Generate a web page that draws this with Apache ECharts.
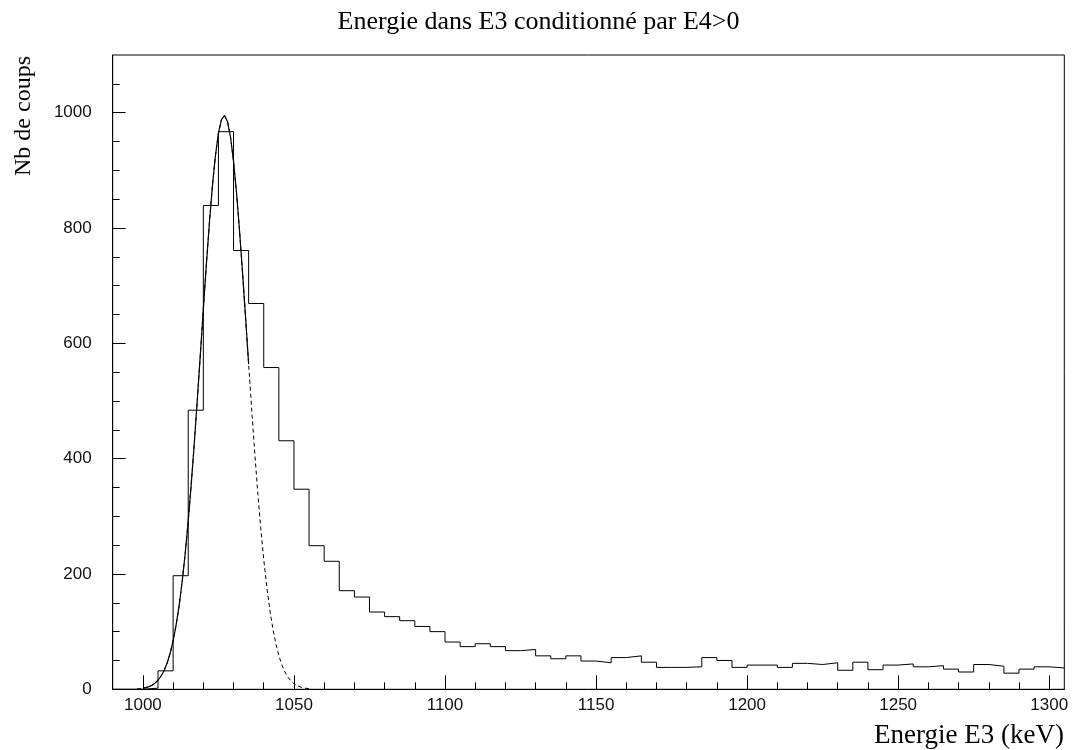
<!DOCTYPE html>
<html>
<head>
<meta charset="utf-8">
<script src="https://cdn.jsdelivr.net/npm/echarts@6/dist/echarts.min.js"></script>
<style>
html,body{margin:0;padding:0;background:#fff;}
#chart{width:1077px;height:750px;}
</style>
</head>
<body>
<div id="chart"></div>
<script>
// Histogram bins (lower edges, keV) and counts
const binLow = [990,995,1000,1005,1010,1015,1020,1025,1030,1035,1040,1045,1050,1055,1060,1065,1070,1075,1080,1085,1090,1095,1100,1105,1110,1115,1120,1125,1130,1135,1140,1145,1150,1155,1160,1165,1170,1175,1180,1185,1190,1195,1200,1205,1210,1215,1220,1225,1230,1235,1240,1245,1250,1255,1260,1265,1270,1275,1280,1285,1290,1295,1300];
const binHigh = 1305;
const counts = [0,0,2,32,197,484,839,967,761,669,558,431,347,249,222,171,160,134,126,119,109,100,82,74,79,74,67,69,58,53,58,49,46,55,58,47,38,38,39,55,50,38,42,42,38,45,43,46,33,47,34,42,44,39,41,35,30,43,40,28,35,39,37];

// Fitted peak curve
const fitX = [998,999,1000,1001,1002,1003,1004,1005,1006,1007,1008,1009,1010,1011,1012,1013,1014,1015,1016,1017,1018,1019,1020,1021,1022,1023,1024,1025,1026,1027,1028,1029,1030,1031,1032,1033,1034,1035,1036,1037,1038,1039,1040,1041,1042,1043,1044,1045,1046,1047,1048,1049,1050,1051,1052,1053,1054,1055,1056];
const fitY = [0.7,1.2,1.9,3.0,4.6,7.1,10.6,15.7,22.7,32.3,45.2,62.1,84.0,111.6,145.6,186.9,235.6,292.0,355.8,426.0,501.2,579.7,658.9,736.2,808.3,872.2,925.2,964.4,988.0,995,984.6,957.8,915.6,860.3,794.4,721.1,643.2,563.9,485.9,411.5,342.5,280.2,225.3,178.0,138.2,105.5,79.2,58.4,42.3,30.1,21.1,14.5,9.8,6.5,4.3,2.7,1.7,1.1,0.7];
const fitRange = [1000, 1035];

// Axis ticks
const xMajor = [1000,1050,1100,1150,1200,1250,1300];
const xMinor = [1000,1010,1020,1030,1040,1050,1060,1070,1080,1090,1100,1110,1120,1130,1140,1150,1160,1170,1180,1190,1200,1210,1220,1230,1240,1250,1260,1270,1280,1290,1300];
const yMajor = [0,200,400,600,800,1000];
const yMinor = [0,50,100,150,200,250,300,350,400,450,500,550,600,650,700,750,800,850,900,950,1000,1050];

const titleText = 'Energie dans E3 conditionné par E4>0';
const xName = 'Energie E3 (keV)';
const yName = 'Nb de coups';

const histData = binLow.map((x, i) => [x, counts[i]]);
histData.push([binHigh, counts[counts.length - 1]]);
const fitAll = fitX.map((x, i) => [x, fitY[i]]);
const fitSolid = fitAll.filter(p => p[0] >= fitRange[0] && p[0] <= fitRange[1]);

const chart = echarts.init(document.getElementById('chart'), null, {renderer: 'canvas'});
const labelFont = {fontFamily: 'Liberation Sans', fontSize: 17, color: '#111', formatter: v => String(v)};
chart.setOption({
  animation: false,
  backgroundColor: '#fff',
  title: {
    text: titleText, left: 'center', top: 4,
    textStyle: {fontFamily: 'Liberation Serif', fontSize: 26, fontWeight: 'normal', color: '#000'}
  },
  grid: {left: 112.7, right: 12.7, top: 55, bottom: 60.7, show: true, borderColor: '#000', borderWidth: 1, backgroundColor: 'transparent'},
  xAxis: [{
    type: 'value', min: 990, max: 1305, position: 'bottom',
    axisLine: {show: true, onZero: false, lineStyle: {color: '#000', width: 1}},
    axisTick: {show: true, inside: true, length: 14, customValues: xMajor, lineStyle: {color: '#000'}},
    axisLabel: Object.assign({customValues: xMajor, margin: 8}, labelFont),
    splitLine: {show: false}
  }, {
    type: 'value', min: 990, max: 1305, position: 'bottom',
    axisLine: {show: false},
    axisTick: {show: true, inside: true, length: 7, customValues: xMinor, lineStyle: {color: '#000'}},
    axisLabel: {show: false},
    splitLine: {show: false}
  }],
  yAxis: [{
    type: 'value', min: 0, max: 1100, position: 'left',
    axisLine: {show: true, onZero: false, lineStyle: {color: '#000', width: 1}},
    axisTick: {show: true, inside: true, length: 13, customValues: yMajor, lineStyle: {color: '#000'}},
    axisLabel: Object.assign({customValues: yMajor, margin: 21}, labelFont),
    splitLine: {show: false}
  }, {
    type: 'value', min: 0, max: 1100, position: 'left',
    axisLine: {show: false},
    axisTick: {show: true, inside: true, length: 7, customValues: yMinor, lineStyle: {color: '#000'}},
    axisLabel: {show: false},
    splitLine: {show: false}
  }],
  series: [{
    type: 'line', name: 'hist', xAxisIndex: 0, yAxisIndex: 0,
    data: histData, step: 'end', showSymbol: false, symbol: 'none',
    lineStyle: {color: '#000', width: 1}, z: 3
  }, {
    type: 'line', name: 'fitDashed', xAxisIndex: 0, yAxisIndex: 0,
    data: fitAll, showSymbol: false, symbol: 'none', smooth: false,
    lineStyle: {color: '#000', width: 1, type: [4, 3]}, z: 2
  }, {
    type: 'line', name: 'fitSolid', xAxisIndex: 0, yAxisIndex: 0,
    data: fitSolid, showSymbol: false, symbol: 'none', smooth: false,
    lineStyle: {color: '#000', width: 1.2}, z: 4
  }],
  graphic: [{
    type: 'text', x: 1064, y: 736,
    style: {text: xName, font: '27px "Liberation Serif"', fill: '#000', textAlign: 'right', textVerticalAlign: 'middle'}
  }, {
    type: 'text', x: 24, y: 116, rotation: Math.PI / 2,
    style: {text: yName, font: '24px "Liberation Serif"', fill: '#000', textAlign: 'center', textVerticalAlign: 'middle'}
  }]
});
</script>
</body>
</html>
